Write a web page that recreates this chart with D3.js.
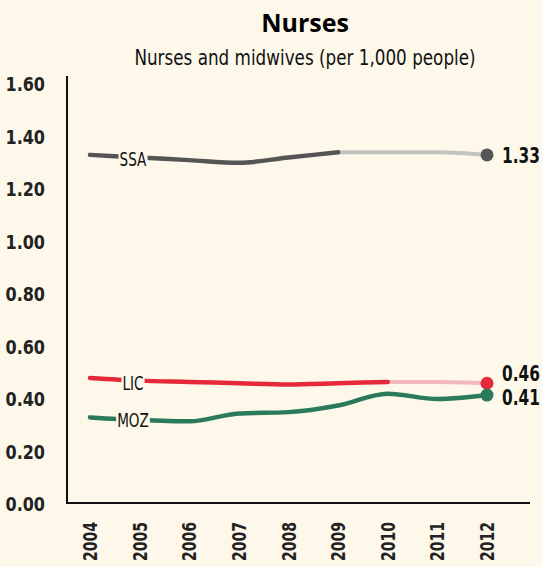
<!DOCTYPE html>
<html>
<head>
<meta charset="utf-8">
<script src="https://cdn.jsdelivr.net/npm/d3@7"></script>
<style>
  body { margin: 0; background: #fdf8ea; }
  svg { display: block; }
  text { font-family: "DejaVu Sans", sans-serif; }
</style>
</head>
<body>
<svg width="542" height="567"></svg>
<script>
const years = [2004, 2005, 2006, 2007, 2008, 2009, 2010, 2011, 2012];
const yTicks = [0, 0.2, 0.4, 0.6, 0.8, 1.0, 1.2, 1.4, 1.6];

const ssa = [1.33, 1.32, 1.31, 1.30, 1.32, 1.34, 1.34, 1.34, 1.33];
const lic = [0.48, 0.47, 0.465, 0.46, 0.455, 0.46, 0.465, 0.465, 0.46];
const moz = [0.33, 0.32, 0.315, 0.345, 0.35, 0.375, 0.42, 0.40, 0.415];

const series = [
    {name: "SSA", values: ssa, color: "#555555", fade: "#c2c2bf", solidUntil: 2009, end: "1.33", endDy: 0, lblDy: 4},
    {name: "LIC", values: lic, color: "#e5283a", fade: "#f3b8bc", solidUntil: 2010, end: "0.46", endDy: -10, lblDy: 5},
    {name: "MOZ", values: moz, color: "#2b7a5c", fade: "#2b7a5c", solidUntil: 2012, end: "0.41", endDy: 2, lblDy: 2}
];

const svg = d3.select("svg");
const bg = "#fdf8ea";
svg.append("rect").attr("width", 542).attr("height", 567).attr("fill", bg);

const x = d3.scaleLinear().domain([2004, 2012]).range([90, 487]);
const y = d3.scaleLinear().domain([0, 1.6]).range([504, 84]);

// no condensed font installed, so squeeze text horizontally
function condText(parent, tx, ty, sx, rot) {
    return parent.append("text")
        .attr("transform", "translate(" + tx + "," + ty + ")" + (rot ? " rotate(" + rot + ")" : "") + " scale(" + sx + ",1)");
}

// title
svg.append("text")
    .attr("x", 305).attr("y", 32)
    .attr("text-anchor", "middle")
    .attr("font-size", 25).attr("font-weight", "bold")
    .style("font-family", "'Open Sans', 'DejaVu Sans', sans-serif")
    .text("Nurses");
condText(svg, 305, 65, 0.8)
    .attr("text-anchor", "middle")
    .attr("font-size", 21)
    .attr("fill", "#111")
    .text("Nurses and midwives (per 1,000 people)");

// axes lines
svg.append("line").attr("x1", 67).attr("x2", 67).attr("y1", 76).attr("y2", 504)
    .attr("stroke", "#111").attr("stroke-width", 2);
svg.append("line").attr("x1", 66).attr("x2", 530).attr("y1", 503).attr("y2", 503)
    .attr("stroke", "#111").attr("stroke-width", 2);

// y tick labels
yTicks.forEach(d => {
    condText(svg, 45, y(d), 0.8)
        .attr("dy", "0.37em")
        .attr("text-anchor", "end")
        .attr("font-size", 20).attr("font-weight", "bold")
        .attr("fill", "#222")
        .text(d3.format(".2f")(d));
});

// x tick labels (rotated)
years.forEach(d => {
    condText(svg, x(d) + 7, 522, 0.74, -90)
        .attr("text-anchor", "end")
        .attr("font-size", 19).attr("font-weight", "bold")
        .attr("fill", "#222")
        .text(d);
});

const line = d3.line()
    .x(d => x(d[0]))
    .y(d => y(d[1]))
    .curve(d3.curveMonotoneX);

series.forEach(s => {
    const pts = years.map((yr, i) => [yr, s.values[i]]);
    const solid = pts.filter(p => p[0] <= s.solidUntil);
    const faded = pts.filter(p => p[0] >= s.solidUntil);

    if (faded.length > 1) {
        svg.append("path")
            .attr("d", line(faded))
            .attr("fill", "none")
            .attr("stroke", s.fade)
            .attr("stroke-width", 4)
            .attr("stroke-linecap", "round");
    }
    svg.append("path")
        .attr("d", line(solid))
        .attr("fill", "none")
        .attr("stroke", s.color)
        .attr("stroke-width", 4.5)
        .attr("stroke-linecap", "round");

    // end dot
    const last = pts[pts.length - 1];
    svg.append("circle")
        .attr("cx", x(last[0])).attr("cy", y(last[1]))
        .attr("r", 6.5)
        .attr("fill", s.color);

    condText(svg, 502, y(last[1]) + s.endDy, 0.7)
        .attr("dy", "0.37em")
        .attr("font-size", 22).attr("font-weight", "bold")
        .attr("fill", "#111")
        .text(s.end);

    // series label on the line
    const sx = 0.68;
    const lbl = condText(svg, x(2004) + 43, y(s.values[0]) + s.lblDy, sx)
        .attr("dy", "0.37em")
        .attr("text-anchor", "middle")
        .attr("font-size", 20)
        .attr("fill", "#111")
        .text(s.name);
    const bb = lbl.node().getBBox();
    svg.insert("rect", () => lbl.node())
        .attr("x", x(2004) + 43 - bb.width * sx / 2 - 1)
        .attr("y", y(s.values[0]) + s.lblDy - 8)
        .attr("width", bb.width * sx + 2).attr("height", 16)
        .attr("fill", bg);
});
</script>
</body>
</html>
